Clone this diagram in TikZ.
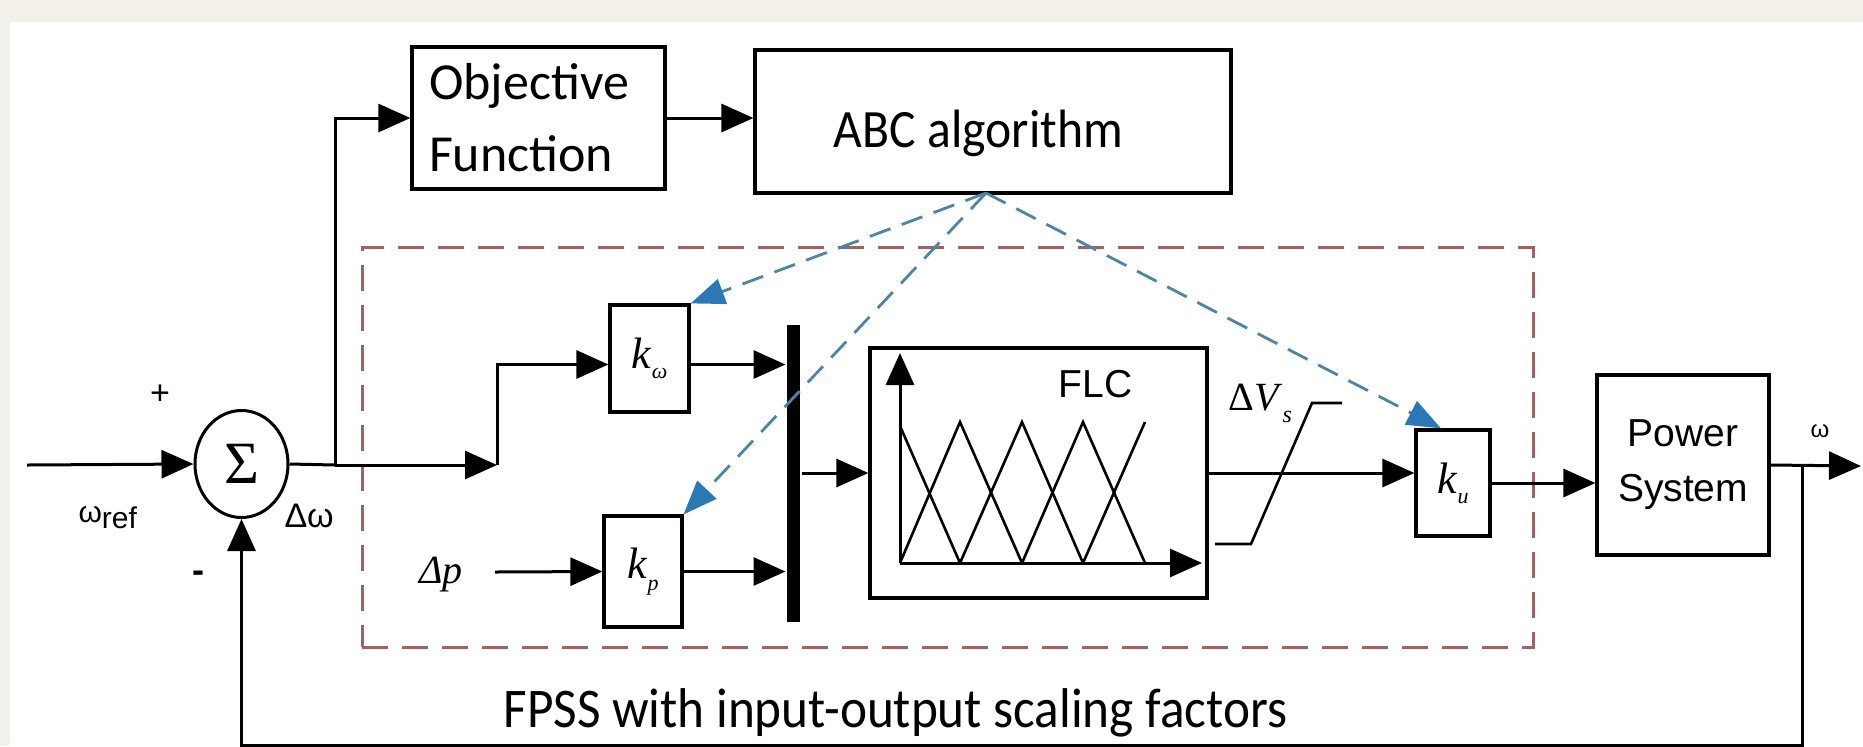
\documentclass[tikz,border=0pt]{standalone}
\usepackage{fontspec}
\setmainfont{Liberation Serif}
\newfontfamily\calib{Carlito}
\newfontfamily\arialf{Liberation Sans}
\newfontfamily\tnr{Liberation Serif}
\usetikzlibrary{arrows.meta,shapes.geometric}
\definecolor{bgbeige}{HTML}{F3F0E9}
\definecolor{fpssred}{HTML}{9C6462}
\definecolor{abcblue}{HTML}{4E84A6}
\definecolor{headblue}{HTML}{2A78B6}
\begin{document}
\begin{tikzpicture}[x=0.5pt,y=-0.5pt,line width=1.5pt,
  blk/.style={draw,line width=1.6pt,inner sep=0pt},
  arr/.style={-{Triangle[length=16pt,width=14pt]}},
  tune/.style={draw=abcblue,line width=1.4pt,dash pattern=on 11pt off 6pt,
    -{Triangle[length=17pt,width=13pt,color=headblue]}},
  lbl/.style={inner sep=0pt},
  kfont/.style={font=\tnr\fontsize{22}{24}\selectfont}
]
% background
\fill[bgbeige] (0,0) rectangle (1863,746);
\fill[white] (10,22) rectangle (1863,746);
\useasboundingbox (0,0) rectangle (1863,746);

% blocks
\node[blk,minimum width=126.5pt,minimum height=71pt,text width=109.5pt,align=left,
  font=\calib\fontsize{26}{36}\selectfont] (obj) at (538.5,118) {Objective\\Function};
\node[blk,minimum width=238pt,minimum height=71.5pt] (abc) at (993,121.5) {};
\node[lbl,anchor=base,font=\calib\fontsize{27}{30}\selectfont] (abclbl) at (978.5,147)
  {\scalebox{0.92}[1]{ABC algorithm}};

\node[draw,ellipse,line width=1.5pt,minimum width=46.5pt,minimum height=53.5pt,inner sep=0pt,
  font=\tnr\fontsize{30}{30}\selectfont] (sum) at (241.5,464) {Σ};

\node[draw=fpssred,dash pattern=on 13pt off 7pt,line width=1.5pt,minimum width=585.5pt,
  minimum height=200pt,inner sep=0pt] (fpss) at (947.5,447) {};

\node[blk,kfont,minimum width=39.5pt,minimum height=53.5pt] (kw) at (649.5,358.5)
  {\textit{k}\raisebox{-5pt}{\fontsize{11}{11}\selectfont\textit{ω}}};
\node[blk,kfont,minimum width=39pt,minimum height=55.5pt] (kp) at (643,571.5)
  {\textit{k}\raisebox{-6pt}{\fontsize{11}{11}\selectfont\textit{p}}};
\node[blk,kfont,minimum width=37pt,minimum height=53pt] (ku) at (1453,483)
  {\textit{k}\raisebox{-5pt}{\fontsize{11}{11}\selectfont\textit{u}}};

\node[fill=black,minimum width=6.5pt,minimum height=148.5pt,inner sep=0pt] (mux) at (793.5,473.5) {};

\node[blk,minimum width=168.5pt,minimum height=125pt] (flc) at (1038.5,473) {};
\node[lbl,anchor=base west,font=\arialf\fontsize{19.5}{22}\selectfont] (flclbl) at (1057,397) {FLC};

\node[blk,minimum width=86pt,minimum height=90pt,align=center,
  font=\arialf\fontsize{19.5}{27.5}\selectfont] (ps) at (1683,465) {Power\\System};

% FLC membership functions
\draw[arr] (900,563) -- (900,353);
\draw[arr] (900,563) -- (1202,563);
\begin{scope}[line width=1.3pt]
\draw (900,426) -- (960,563);
\draw (900,563) -- (960,422) -- (1022,563);
\draw (960,563) -- (1022,422) -- (1083,563);
\draw (1022,563) -- (1083,422) -- (1145,563);
\draw (1083,563) -- (1145,422);
\end{scope}
% saturation
\draw[line width=1.3pt] (1215,544) -- (1251,544) -- (1312,403) -- (1342,403);

% coordinates
\coordinate (win) at (27,465);
\coordinate (j1) at (335,465);
\coordinate (j2) at (497,465);
\coordinate (dpin) at (495,572);
\coordinate (src) at (986,193);
\coordinate (br) at (1802,466);
\coordinate (wout) at (1861,466);
\coordinate (fb) at (1802,745);

% connectors
\draw[arr] (win) -- (sum.west);
\draw (sum.east) -- (j1);
\draw[arr] (j1) -- (j2);
\draw[arr] (j1) |- (obj.west);
\draw[arr] (obj.east) -- (obj.east -| abc.west);
\draw[arr] (j2) |- ([yshift=-3pt]kw.west);
\draw[arr] ([yshift=-3pt]kw.east) -- ([yshift=-3pt]kw.east -| mux.west);
\draw[arr] (dpin) -- (kp.west);
\draw[arr] (kp.east) -- (kp.east -| mux.west);
\draw[arr] (mux.east |- flc.west) -- (flc.west);
\draw[arr] (flc.east) -- (flc.east -| ku.west);
\draw[arr] (ku.east) -- (ku.east -| ps.west);
\draw[arr] (ps.east) -- (wout);
\draw[arr] (br) -- (fb) -| (sum.south);

% tuning (dashed blue)
\draw[tune] (src) -- (kw.north east);
\draw[tune] (src) -- (kp.north east);
\draw[tune] (src) -- ([xshift=-6pt]ku.north);

% labels
\node[lbl,anchor=base,font=\calib\fontsize{28}{30}\selectfont] (caption) at (895.5,727)
  {\scalebox{0.915}[1]{FPSS with input-output scaling factors}};
\node[lbl,anchor=base west,font=\arialf\fontsize{15}{15}\selectfont] (wref) at (77,522)
  {ω\raisebox{-3pt}{ref}};
\node[lbl,anchor=base west,font=\arialf\fontsize{17}{17}\selectfont] (dw) at (283,527) {Δω};
\node[lbl,anchor=base west,font=\tnr\fontsize{20}{20}\selectfont] (dp) at (418,583) {\textit{Δp}};
\node[lbl,anchor=base west,font=\tnr\fontsize{20}{20}\selectfont] (dvs) at (1227,410)
  {Δ\textit{V}\raisebox{-6pt}{\fontsize{12}{12}\selectfont\textit{s}}};
\node[lbl,font=\arialf\fontsize{17}{17}\selectfont] (plus) at (160,395) {+};
\node[lbl,font=\arialf\bfseries\fontsize{18}{18}\selectfont] (minus) at (198,577) {-};
\node[lbl,font=\arialf\fontsize{12}{12}\selectfont] (wo) at (1820,431) {ω};
\end{tikzpicture}
\end{document}
